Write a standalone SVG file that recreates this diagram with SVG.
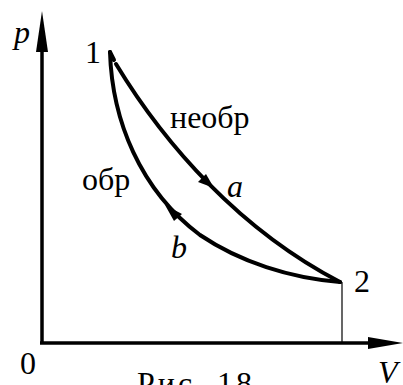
<svg xmlns="http://www.w3.org/2000/svg" width="403" height="385" viewBox="0 0 403 385">
<defs>
<style>
text{font-family:"Liberation Serif","Times New Roman",serif;font-size:32px;fill:#000}
.it{font-style:italic}
.curve{fill:none;stroke:#000;stroke-width:4;stroke-linecap:round}
.axis{fill:none;stroke:#000;stroke-width:3.5}
.head{fill:#000}
</style>
</defs>
<rect width="403" height="385" fill="#fff"/>
<g id="connectors">
<path class="axis" d="M42,343 L42,40"/>
<path class="head" d="M42,11 L36,52 L48,52 z"/>
<path class="axis" d="M40,343 L378,343"/>
<path class="head" d="M403,343 L368,337 L368,349 z"/>
<path d="M342,282 L342,343" stroke="#000" stroke-width="1.2" fill="none"/>
<path class="curve" d="M110,52 L114,60"/>
<path class="curve" d="M116,64 C165,145 240,230 340,282"/>
<path class="curve" d="M110,52 C112,120 140,190 200,235 C240,262 290,278 340,282"/>
<path class="head" d="M214,188 L198,182 L206,174 z"/>
<path class="head" d="M165,205 L182,214 L174,221 z"/>
</g>
<g id="n1"><text x="85" y="63">1</text></g>
<g id="n2"><text x="354" y="292">2</text></g>
<g id="labels">
<text class="it" x="14" y="43">p</text>
<text x="170" y="128">необр</text>
<text class="it" x="227" y="197">a</text>
<text x="82" y="190">обр</text>
<text class="it" x="171" y="258">b</text>
<text x="20" y="374">0</text>
<text class="it" x="378" y="383">V</text>
<text x="137" y="394" textLength="115">Рис. 18</text>
</g>
</svg>
